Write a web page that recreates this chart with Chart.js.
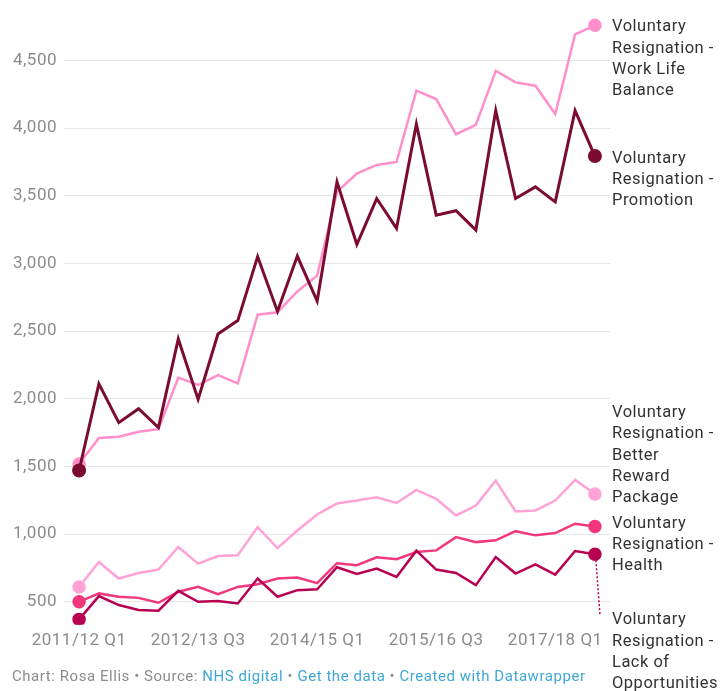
<!DOCTYPE html>
<html lang="en">
<head>
  <meta charset="UTF-8">
  <script src="https://cdn.jsdelivr.net/npm/chart.js"></script>
  <title>Voluntary resignations</title>
  <style>
    body { margin: 0; background: #fff; font-family: Roboto, sans-serif; }
    #wrap { position: relative; width: 722px; height: 691px; }
    #footer { position: absolute; left: 12px; top: 667px; font-size: 15px; letter-spacing: 0.55px; color: #8c8c8c; white-space: nowrap; }
    #footer a { color: #3fa8d2; text-decoration: none; }
  </style>
</head>
<body>
  <div id="wrap">
    <canvas id="chart" width="722" height="691"></canvas>
    <div id="footer">Chart: Rosa Ellis • Source: <a>NHS digital</a> • <a>Get the data</a> • <a>Created with Datawrapper</a></div>
  </div>
  <script>
    const quarters = ['2011/12 Q1','2011/12 Q2','2011/12 Q3','2011/12 Q4','2012/13 Q1','2012/13 Q2','2012/13 Q3','2012/13 Q4',
      '2013/14 Q1','2013/14 Q2','2013/14 Q3','2013/14 Q4','2014/15 Q1','2014/15 Q2','2014/15 Q3','2014/15 Q4',
      '2015/16 Q1','2015/16 Q2','2015/16 Q3','2015/16 Q4','2016/17 Q1','2016/17 Q2','2016/17 Q3','2016/17 Q4',
      '2017/18 Q1','2017/18 Q2','2017/18 Q3']
    const xTicks = [0, 6, 12, 18, 24]
    const yTicks = [500, 1000, 1500, 2000, 2500, 3000, 3500, 4000, 4500]

    const promotion = [1470, 2110, 1824, 1927, 1788, 2442, 1996, 2479, 2578, 3051, 2646, 3055, 2722, 3603, 3140, 3480, 3259, 4030, 3357, 3390, 3247, 4130, 3480, 3566, 3455, 4130, 3794]
    const workLife = [1518, 1710, 1719, 1756, 1776, 2156, 2102, 2175, 2114, 2622, 2639, 2793, 2910, 3529, 3665, 3728, 3750, 4277, 4215, 3955, 4024, 4424, 4338, 4314, 4105, 4693, 4760]
    const betterReward = [610, 794, 672, 713, 738, 905, 782, 838, 844, 1052, 897, 1027, 1145, 1226, 1248, 1272, 1230, 1327, 1261, 1138, 1211, 1395, 1167, 1175, 1248, 1400, 1297]
    const health = [500, 562, 537, 529, 493, 574, 610, 557, 610, 630, 672, 679, 638, 785, 770, 829, 815, 868, 880, 978, 941, 954, 1022, 991, 1008, 1077, 1057]
    const lackOfOpps = [370, 542, 476, 439, 434, 581, 500, 505, 488, 672, 537, 586, 592, 755, 705, 746, 684, 878, 738, 713, 623, 831, 709, 777, 701, 875, 851]

    const last = quarters.length - 1
    const pts = arr => arr.map((v, i) => ({x: i, y: v}))
    const endDots = c => (c.dataIndex === 0 || c.dataIndex === last) ? 5.5 : 0

    function series(label, data, color, width, lines, shift) {
      return {
        label, data: pts(data), borderColor: color, backgroundColor: color,
        borderWidth: width, pointRadius: endDots, pointHoverRadius: endDots,
        tension: 0, lines, shift
      }
    }

    // slightly wider text, like the original
    const spacing = {
      id: 'spacing',
      beforeDraw(chart) { chart.ctx.letterSpacing = '0.5px' }
    }

    // label text is placed next to the last point, shifted to avoid overlap
    const endLabels = {
      id: 'endLabels',
      afterDatasetsDraw(chart) {
        const c = chart.ctx
        c.save()
        c.font = '16.5px Roboto'
        c.fillStyle = '#333'
        c.textBaseline = 'middle'
        chart.data.datasets.forEach((ds, i) => {
          const p = chart.getDatasetMeta(i).data[last]
          const y0 = p.y + ds.shift
          ds.lines.forEach((t, k) => c.fillText(t, 612, y0 + k * 21.3))
          if (ds.shift > 30) {
            c.strokeStyle = ds.borderColor
            c.lineWidth = 1.5
            c.setLineDash([2, 2])
            c.beginPath()
            c.moveTo(p.x + 1, p.y + 6)
            c.lineTo(p.x + 5, y0 - 6)
            c.stroke()
            c.setLineDash([])
          }
        })
        c.restore()
      }
    }

    new Chart(document.getElementById('chart'), {
      type: 'line',
      data: {
        datasets: [
          series('Promotion', promotion, '#7b0c2f', 3, ['Voluntary', 'Resignation -', 'Promotion'], 2.5),
          series('Lack of Opportunities', lackOfOpps, '#b80052', 2.5, ['Voluntary', 'Resignation -', 'Lack of', 'Opportunities'], 66),
          series('Health', health, '#f2387c', 2.5, ['Voluntary', 'Resignation -', 'Health'], -3),
          series('Better Reward Package', betterReward, '#ffa2d6', 2.5, ['Voluntary', 'Resignation -', 'Better', 'Reward', 'Package'], -81),
          series('Work Life Balance', workLife, '#ff8ecb', 2.5, ['Voluntary', 'Resignation -', 'Work Life', 'Balance'], 2)
        ]
      },
      options: {
        responsive: false,
        animation: false,
        layout: { padding: { top: 14.5, right: 112, left: 0, bottom: 0 } },
        plugins: { legend: { display: false }, tooltip: { enabled: false } },
        scales: {
          x: {
            type: 'linear', min: -0.76, max: 26.76,
            grid: { display: false }, border: { display: false },
            afterBuildTicks: ax => { ax.ticks = xTicks.map(v => ({value: v})) },
            afterFit: ax => { ax.height = 66.2 },
            ticks: {
              padding: -2, maxRotation: 0, autoSkip: false,
              color: '#8c8c8c', font: { family: 'Roboto', size: 17 },
              callback: v => quarters[v]
            }
          },
          y: {
            min: 330, max: 4820,
            grid: { color: '#e6e6e6', lineWidth: 1, drawTicks: false }, border: { display: false },
            afterBuildTicks: ax => { ax.ticks = yTicks.map(v => ({value: v})) },
            afterFit: ax => { ax.width = 64 },
            ticks: {
              padding: 7, color: '#8c8c8c', font: { family: 'Roboto', size: 17 },
              callback: v => v.toLocaleString('en-US')
            }
          }
        }
      },
      plugins: [spacing, endLabels]
    })
  </script>
</body>
</html>
